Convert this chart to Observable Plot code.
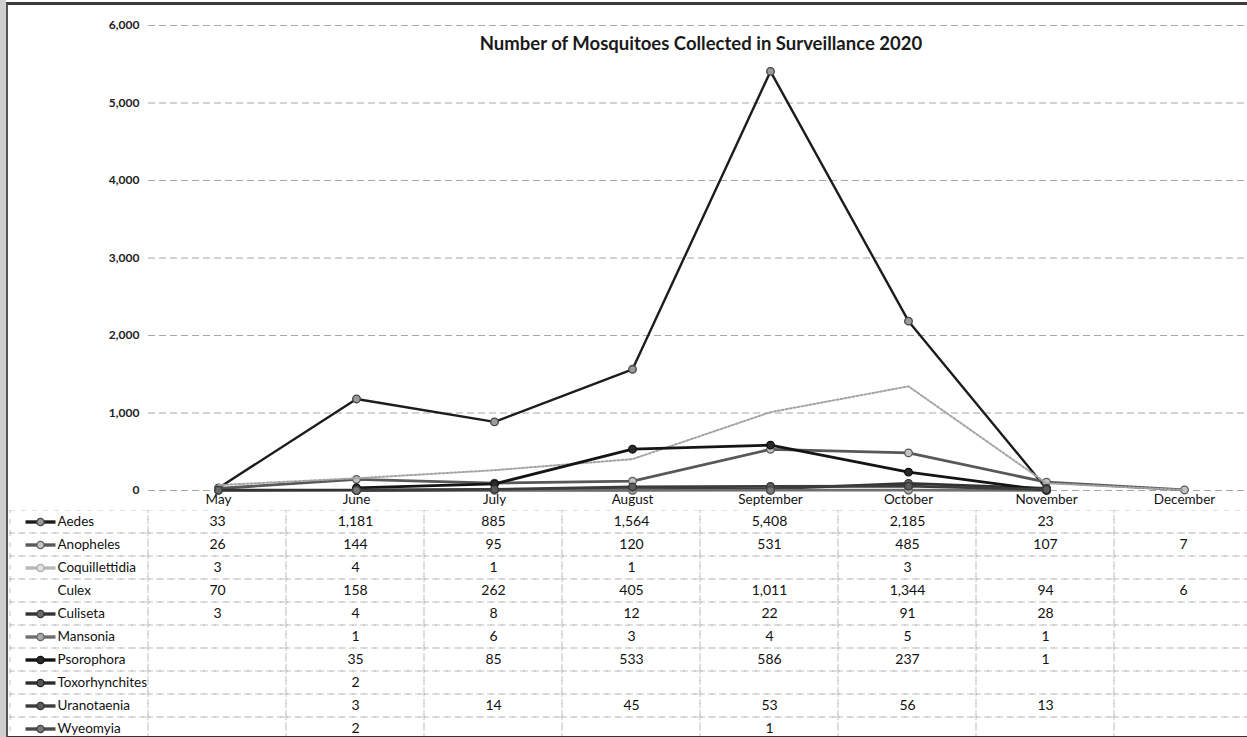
<!DOCTYPE html>
<html>
<head>
<meta charset="utf-8">
<script src="https://cdn.jsdelivr.net/npm/d3@7"></script>
<script src="https://cdn.jsdelivr.net/npm/@observablehq/plot@0.6"></script>
<style>
  html, body { margin: 0; padding: 0; background: #fff; overflow: hidden; width: 1247px; height: 737px; }
  #wrap { position: relative; width: 1247px; height: 737px; font-family: Lato, "Open Sans", sans-serif; }
  #chart, #table { position: absolute; left: 0; }
  #chart { top: 0; }
  #table { top: 510px; }
  #edge { position: absolute; left: 0; top: 0; width: 6px; height: 737px; background: #cfcfcf; }
  #frame { position: absolute; left: 6px; top: 2px; width: 1250px; height: 731px; border-top: 3px solid #3a3a3a; border-left: 2px solid #555; border-bottom: 2px solid #333; pointer-events: none; }
</style>
</head>
<body>
<div id="wrap">
  <div id="chart"></div>
  <div id="table"></div>
  <div id="edge"></div>
  <div id="frame"></div>
</div>
<script>
// ---- data ----
const months = ["May", "June", "July", "August", "September", "October", "November", "December"];
const species = ["Aedes", "Anopheles", "Coquillettidia", "Culex", "Culiseta", "Mansonia", "Psorophora", "Toxorhynchites", "Uranotaenia", "Wyeomyia"];
const aedes          = [33, 1181, 885, 1564, 5408, 2185, 23, null];
const anopheles      = [26, 144, 95, 120, 531, 485, 107, 7];
const coquillettidia = [3, 4, 1, 1, null, 3, null, null];
const culex          = [70, 158, 262, 405, 1011, 1344, 94, 6];
const culiseta       = [3, 4, 8, 12, 22, 91, 28, null];
const mansonia       = [null, 1, 6, 3, 4, 5, 1, null];
const psorophora     = [null, 35, 85, 533, 586, 237, 1, null];
const toxorhynchites = [null, 2, null, null, null, null, null, null];
const uranotaenia    = [null, 3, 14, 45, 53, 56, 13, null];
const wyeomyia       = [null, 2, null, null, 1, null, null, null];
const yTicks = [0, 1000, 2000, 3000, 4000, 5000, 6000];
const title = "Number of Mosquitoes Collected in Surveillance 2020";

const seriesValues = [aedes, anopheles, coquillettidia, culex, culiseta, mansonia, psorophora, toxorhynchites, uranotaenia, wyeomyia];

// ---- styles (separate from data) ----
const styles = {
  Aedes:          {line: "#1c1c1c", width: 2.4, fill: "#9a9a9a", mstroke: "#444"},
  Anopheles:      {line: "#585858", width: 2.8, fill: "#c4c4c4", mstroke: "#5a5a5a"},
  Coquillettidia: {line: "#b8b8b8", width: 2.6, fill: "#e0e0e0", mstroke: "#aaa"},
  Culex:          {line: "#a4a4a4", width: 2, dash: "2,2", fill: null},
  Culiseta:       {line: "#333", width: 2.8, fill: "#6a6a6a", mstroke: "#333"},
  Mansonia:       {line: "#6e6e6e", width: 2.8, fill: "#a8a8a8", mstroke: "#666"},
  Psorophora:     {line: "#141414", width: 2.8, fill: "#2a2a2a", mstroke: "#111"},
  Toxorhynchites: {line: "#2c2c2c", width: 2.8, fill: "#555", mstroke: "#222"},
  Uranotaenia:    {line: "#3c3c3c", width: 2.8, fill: "#5c5c5c", mstroke: "#333"},
  Wyeomyia:       {line: "#4a4a4a", width: 2.8, fill: "#777", mstroke: "#444"}
};

const rows = [];
species.forEach((s, i) => months.forEach((m, j) => rows.push({species: s, month: m, value: seriesValues[i][j]})));

// ---- line chart ----
const lineMarks = [];
species.forEach(s => {
  const st = styles[s];
  const data = rows.filter(r => r.species === s);
  lineMarks.push(Plot.line(data, {x: "month", y: "value", stroke: st.line, strokeWidth: st.width, strokeDasharray: st.dash, defined: d => d.value != null}));
  if (st.fill) lineMarks.push(Plot.dot(data.filter(d => d.value != null), {x: "month", y: "value", r: 3.8, fill: st.fill, stroke: st.mstroke, strokeWidth: 1.3}));
});

const chart = Plot.plot({
  width: 1247, height: 510,
  marginLeft: 148, marginRight: -6, marginTop: 25, marginBottom: 20,
  style: {fontFamily: "Lato, 'Open Sans', sans-serif", background: "transparent", overflow: "visible"},
  x: {type: "band", domain: months, padding: 0, label: null},
  y: {domain: [0, 6000], label: null},
  marks: [
    Plot.gridY(yTicks, {stroke: "#8a8a8a", strokeOpacity: 0.75, strokeDasharray: "7,4"}),
    Plot.axisY(yTicks, {tickSize: 0, tickPadding: 9, tickFormat: d3.format(","), fontSize: 12, fontWeight: "bold", fill: "#222", label: null}),
    Plot.axisX({tickSize: 0, tickPadding: 4, fontSize: 13.5, fill: "#111", label: null}),
    ...lineMarks,
    Plot.text([title], {frameAnchor: "top", dy: 11, fontSize: 18.5, fontWeight: "bold", fill: "#1a1a1a"})
  ]
});
document.getElementById("chart").appendChild(chart);

// ---- data table ----
const legendSeg = {draw(ctx) { ctx.moveTo(-15, 0); ctx.lineTo(15, 0); }};
const cols = ["", ...months];
const gridCells = [];
species.forEach(s => cols.forEach(c => gridCells.push({species: s, col: c})));
const legendSpecies = species.filter(s => styles[s].fill);

const table = Plot.plot({
  width: 1247, height: 230,
  marginLeft: 9.7, marginRight: -6, marginTop: 0, marginBottom: 0,
  style: {fontFamily: "Lato, 'Open Sans', sans-serif", background: "transparent"},
  x: {type: "band", domain: cols, padding: 0, axis: null},
  y: {type: "band", domain: species, padding: 0, axis: null},
  marks: [
    Plot.cell(gridCells, {x: "col", y: "species", fill: "none", stroke: "#b4b4b4", strokeOpacity: 0.8, strokeDasharray: "5,6", strokeWidth: 1, inset: 0}),
    Plot.text(rows.filter(r => r.value != null), {x: "month", y: "species", text: d => d3.format(",")(d.value), fontSize: 14, fill: "#111"}),
    Plot.text(species, {x: () => "", y: d => d, text: d => d, textAnchor: "start", dx: -22, fontSize: 13.5, fill: "#111"}),
    Plot.dot(legendSpecies, {x: () => "", y: d => d, dx: -39, symbol: legendSeg, r: 4, fill: "none", stroke: d => styles[d].line, strokeWidth: 3.4}),
    Plot.dot(legendSpecies, {x: () => "", y: d => d, dx: -39, r: 3.6, fill: d => styles[d].fill, stroke: d => styles[d].mstroke, strokeWidth: 1.3})
  ]
});
document.getElementById("table").appendChild(table);
</script>
</body>
</html>
